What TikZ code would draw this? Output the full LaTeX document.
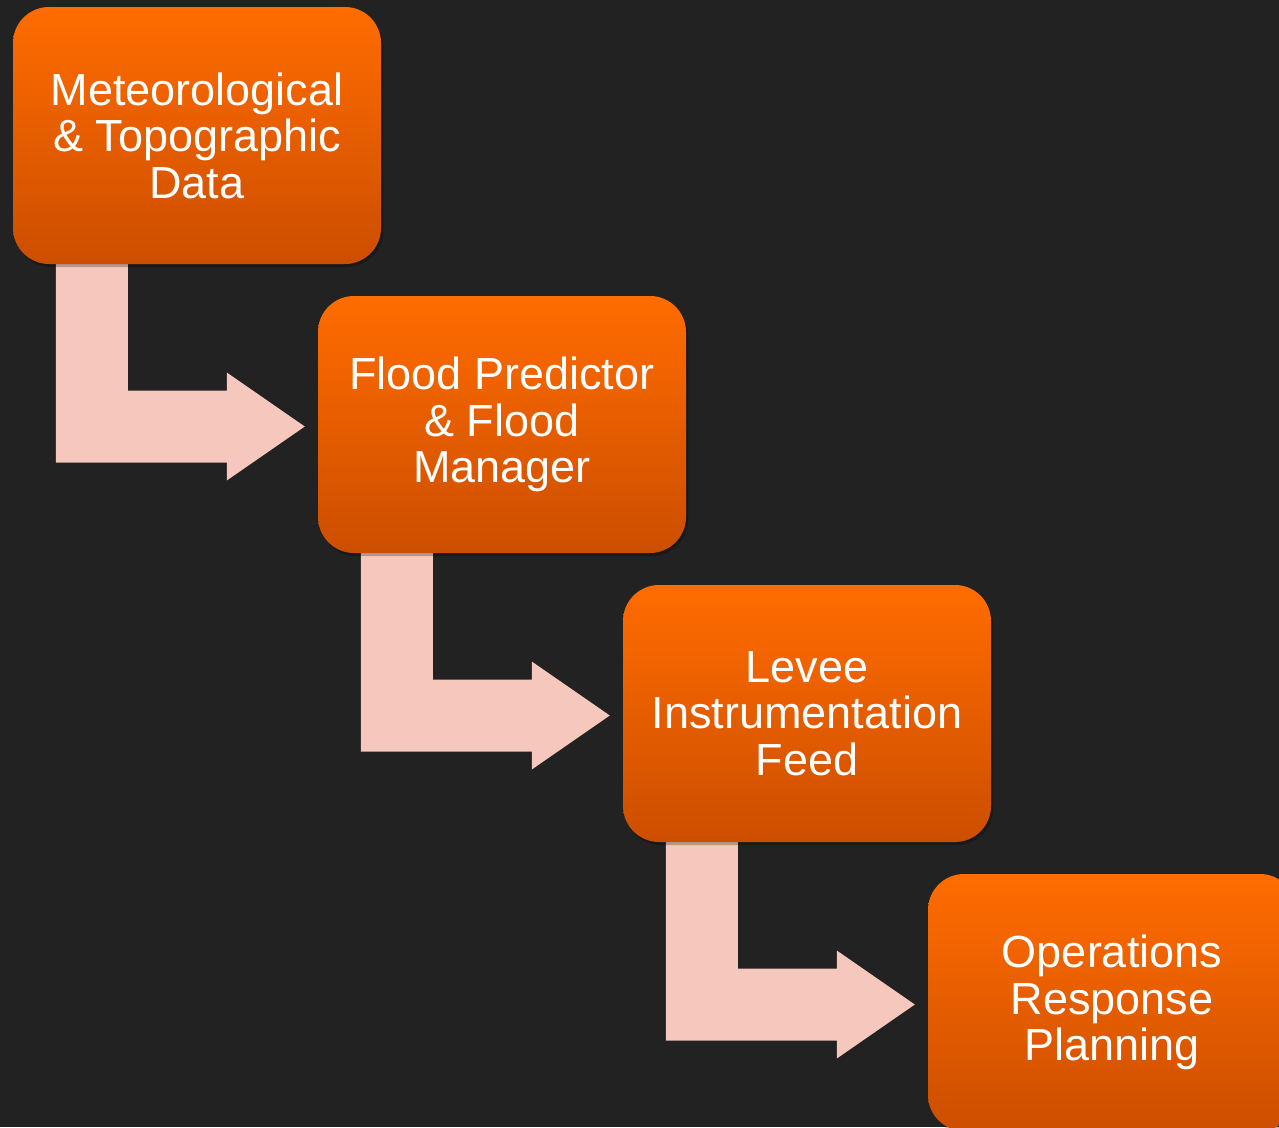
\documentclass[tikz,border=0pt]{standalone}
\usepackage{fontspec}
\setmainfont{Liberation Sans}
\usetikzlibrary{calc,backgrounds,shadows}
\definecolor{bgdark}{RGB}{34,34,34}
\definecolor{pinkarrow}{RGB}{246,199,188}
\definecolor{orTop}{RGB}{255,108,0}
\definecolor{orMid}{RGB}{240,98,0}
\definecolor{orBot}{RGB}{204,78,0}
\tikzset{
  stepbox/.style={rectangle, rounded corners=36pt, minimum width=368pt, minimum height=257pt,
    top color=orTop, middle color=orMid, bottom color=orBot, text=white, align=center,
    font=\fontsize{45}{46.5}\selectfont, inner sep=0pt,
    drop shadow={shadow xshift=2pt, shadow yshift=-3pt, opacity=0.25, fill=black}},
  arrowbody/.style={fill=pinkarrow},
  arrowshade/.style={fill=black, opacity=0.3, xshift=2pt, yshift=-2pt},
}
\newcommand\bentarrow[3]{%
  \path[#3] let \p1=(#1.south west), \p2=(#2.west) in
    (\x1+43pt,\y1) -- (\x1+115pt,\y1) -- (\x1+115pt,\y2+34pt) -- (\x2-91pt,\y2+34pt)
    -- (\x2-91pt,\y2+52pt) -- (\x2-13pt,\y2-2pt) -- (\x2-91pt,\y2-56pt)
    -- (\x2-91pt,\y2-38pt) -- (\x1+43pt,\y2-38pt) -- cycle;}
\begin{document}
\begin{tikzpicture}[x=1pt,y=-1pt]
  \useasboundingbox (0,0) rectangle (1279,1127);
  \node[stepbox] (b1) at (197,135.5) {Meteorological\\\& Topographic\\Data};
  \node[stepbox] (b2) at (502,424.5) {Flood Predictor\\\& Flood\\Manager};
  \node[stepbox] (b3) at (807,713.5) {Levee\\Instrumentation\\Feed};
  \node[stepbox] (b4) at (1112,1002.5) {Operations\\Response\\Planning};
  \begin{scope}[on background layer]
    \fill[bgdark] (0,0) rectangle (1279,1127);
    \bentarrow{b1}{b2}{arrowshade}
    \bentarrow{b1}{b2}{arrowbody}
    \bentarrow{b2}{b3}{arrowshade}
    \bentarrow{b2}{b3}{arrowbody}
    \bentarrow{b3}{b4}{arrowshade}
    \bentarrow{b3}{b4}{arrowbody}
  \end{scope}
\end{tikzpicture}
\end{document}
